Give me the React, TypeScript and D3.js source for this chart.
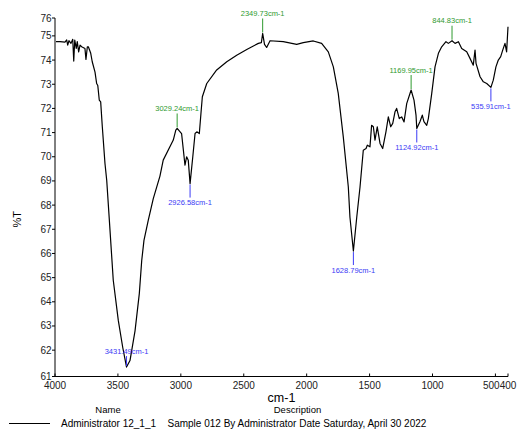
import React from 'react';
import * as d3 from 'd3';

// spectrum: wavenumber (cm-1) and %T
const wavenumbers = [
  3992, 3960, 3921, 3907, 3899, 3889, 3873, 3859, 3851, 3843, 3831, 3823, 3812, 3801, 3788,
  3762, 3754, 3743, 3735, 3716, 3704, 3682, 3669, 3660, 3648, 3637, 3624, 3603, 3589, 3568,
  3537, 3497, 3462, 3431.49, 3404, 3364, 3330, 3311, 3293, 3259, 3219, 3166, 3140, 3060, 3040,
  3029.24, 2994, 2967, 2954, 2941, 2926.58, 2905, 2887, 2873, 2853, 2840, 2829, 2794, 2715, 2635,
  2556, 2476, 2384, 2360, 2349.73, 2335, 2318, 2291, 2186, 2079, 2027, 1947, 1881, 1828, 1788,
  1749, 1709, 1669, 1656, 1628.79, 1602, 1576, 1550, 1528, 1518, 1497, 1484, 1470, 1457, 1439,
  1417, 1396, 1370, 1351, 1332, 1316, 1298, 1285, 1264, 1245, 1226, 1205, 1169.95, 1147, 1131,
  1124.92, 1100, 1081, 1068, 1046, 1033, 1006, 980, 953, 927, 893, 874, 844.83, 821, 794,
  768, 728, 702, 676, 662, 654, 622, 596, 569, 535.91, 517, 496, 477, 458, 442,
  424, 411, 400,
];
const transmittance = [
  74.76, 74.76, 74.74, 74.83, 74.62, 74.8, 74.69, 74.86, 73.96, 74.83, 74.48, 74.76, 74.34, 74.62, 74.55,
  74.48, 74.03, 74.55, 74.55, 74.28, 73.93, 73.5, 73.03, 72.95, 72.34, 72.27, 71.24, 69.73, 69.03, 67.37,
  64.89, 63.23, 62.12, 61.3, 61.57, 62.8, 64.34, 65.7, 66.54, 67.37, 68.27, 69.2, 69.86, 70.69, 71.1,
  71.17, 70.96, 69.65, 70.0, 69.86, 68.89, 70.0, 70.96, 71.03, 70.96, 71.8, 72.48, 73.03, 73.59, 73.93,
  74.2, 74.44, 74.69, 74.72, 75.1, 74.65, 74.52, 74.8, 74.76, 74.65, 74.72, 74.79, 74.69, 74.34, 73.72,
  72.62, 70.82, 68.75, 67.5, 66.1, 67.5, 68.75, 70.27, 70.34, 70.48, 70.41, 71.3, 71.24, 70.69, 71.24,
  70.55, 70.34, 71.03, 71.65, 71.24, 71.38, 71.86, 72.0, 71.58, 71.65, 71.44, 72.2, 72.76, 72.34, 71.72,
  71.17, 71.45, 71.72, 71.45, 71.3, 71.58, 72.62, 73.72, 74.28, 74.55, 74.76, 74.69, 74.8, 74.69, 74.76,
  74.48, 74.34, 74.07, 73.79, 74.41, 73.86, 73.31, 73.1, 73.03, 72.87, 73.17, 73.72, 74.0, 74.14, 74.41,
  74.69, 74.34, 75.38,
];

// picked peaks: 'max' labels sit above in green, 'min' below in blue
const peakWn = [3431.49, 3029.24, 2926.58, 2349.73, 1628.79, 1169.95, 1124.92, 844.83, 535.91];
const peakKind = ['min', 'max', 'min', 'max', 'min', 'max', 'min', 'max', 'min'];

const xTicks = [4000, 3500, 3000, 2500, 2000, 1500, 1000, 500, 400];
const yTicks = [62, 63, 64, 65, 66, 67, 68, 69, 70, 71, 72, 73, 74, 75];
const xDomain = [4000, 400];
const yDomain = [60.91, 75.74];

const legendName = 'Administrator 12_1_1';
const legendDesc = 'Sample 012 By Administrator Date Saturday, April 30 2022';

const W = 519;
const H = 432;
const margin = { top: 18, right: 11, bottom: 55.5, left: 55 };
const font = '"Liberation Sans", Arial, sans-serif';

const App: React.FC = () => {
  const innerW = W - margin.left - margin.right;
  const innerH = H - margin.top - margin.bottom;

  const x = d3.scaleLinear().domain(xDomain).range([0, innerW]);
  const y = d3.scaleLinear().domain(yDomain).range([innerH, 0]);

  const pts = wavenumbers.map((w, i) => [w, transmittance[i]] as [number, number]);
  const line = d3.line<[number, number]>()
    .x(d => x(d[0]))
    .y(d => y(d[1]));

  // x tick labels: push a label left if it runs into the next one
  const tickFont = 10;
  const xLabelPos = xTicks.map(t => x(t));
  for (let i = xTicks.length - 2; i >= 0; i--) {
    const wA = String(xTicks[i]).length * 0.556 * tickFont;
    const wB = String(xTicks[i + 1]).length * 0.556 * tickFont;
    const gap = xLabelPos[i + 1] - xLabelPos[i] - (wA + wB) / 2;
    if (gap < 0) xLabelPos[i] += gap;
  }

  const yTickAll = [yDomain[0], ...yTicks, yDomain[1]];

  return (
    <svg width={W} height={H} style={{ position: 'absolute', left: 0, top: 0, fontFamily: font }}>
      <rect width={W} height={H} fill="#fff" />
      <g transform={`translate(${margin.left},${margin.top})`}>
        {/* axes */}
        <line x1={0} x2={0} y1={0} y2={innerH} stroke="#000" strokeWidth={1} />
        <line x1={0} x2={innerW} y1={innerH} y2={innerH} stroke="#000" strokeWidth={1} />
        {yTickAll.map((t, i) => (
          <g key={'y' + i} transform={`translate(0,${y(t)})`}>
            <line x1={-3} x2={0} stroke="#000" />
            <text x={-3.5} dy="0.35em" textAnchor="end" fontSize={tickFont} fill="#222">
              {d3.format('.0f')(t)}
            </text>
          </g>
        ))}
        {xTicks.map((t, i) => (
          <g key={'x' + i}>
            <line x1={x(t)} x2={x(t)} y1={innerH - 3} y2={innerH} stroke="#000" />
            <text x={xLabelPos[i]} y={innerH + 12.5} textAnchor="middle" fontSize={tickFont} fill="#222">
              {t}
            </text>
          </g>
        ))}

        {/* spectrum */}
        <path d={line(pts) || ''} fill="none" stroke="#000" strokeWidth={1.2} strokeLinejoin="round" />

        {/* peak labels */}
        {peakWn.map((w, i) => {
          const idx = wavenumbers.indexOf(w);
          const px = x(w);
          const py = y(transmittance[idx]);
          const isMax = peakKind[i] === 'max';
          // minima too close to the bottom get their label flipped above
          const flip = !isMax && py + 24 > innerH;
          const dir = isMax || flip ? -1 : 1;
          const color = isMax ? '#2f9a2f' : '#3b3bf5';
          const len = isMax ? 14 : flip ? 10 : 13;
          const y1 = py + dir * 1;
          const y2 = py + dir * (1 + len);
          return (
            <g key={'p' + i}>
              <line x1={px} x2={px} y1={y1} y2={y2} stroke={color} strokeWidth={1} />
              <text x={px} y={y2 + dir * 5} dy="0.35em" textAnchor="middle" fontSize={7.5} fill={color}>
                {`${w.toFixed(2)}cm-1`}
              </text>
            </g>
          );
        })}

        {/* axis titles */}
        <text x={innerW / 2} y={innerH + 25} textAnchor="middle" fontSize={12.5} fill="#000">cm-1</text>
        <text transform={`translate(${-38},${innerH / 2 + 22}) rotate(-90)`} textAnchor="middle"
          dy="0.35em" fontSize={11} fill="#000">%T</text>
      </g>

      {/* legend */}
      <text x={108} y={409.5} dy="0.35em" textAnchor="middle" fontSize={9.5} fill="#000">Name</text>
      <text x={297.5} y={409.5} dy="0.35em" textAnchor="middle" fontSize={9.5} fill="#000">Description</text>
      <line x1={9} x2={50} y1={423.5} y2={423.5} stroke="#000" strokeWidth={1} />
      <text x={61} y={423} dy="0.35em" fontSize={10} fill="#000">{legendName}</text>
      <text x={167.5} y={423} dy="0.35em" fontSize={10} fill="#000">{legendDesc}</text>
    </svg>
  );
};

export default App;
